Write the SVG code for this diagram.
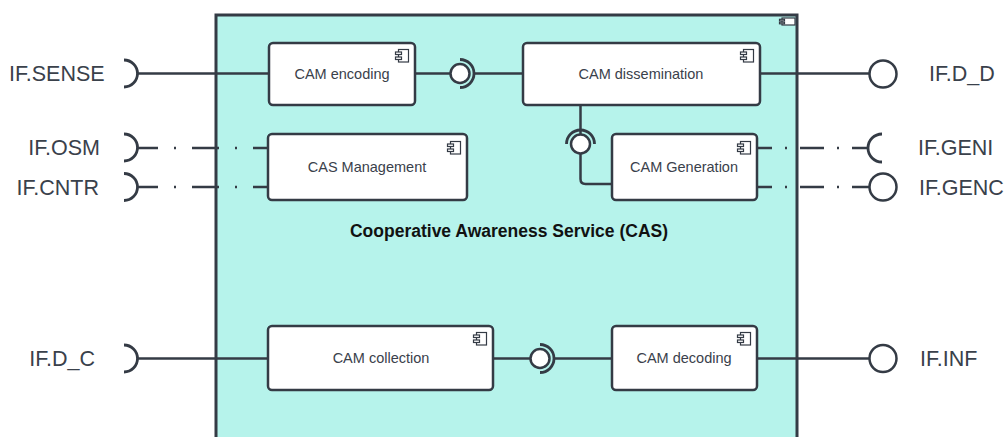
<svg xmlns="http://www.w3.org/2000/svg" width="1006" height="437" viewBox="0 0 1006 437">
  <style>
    .box { fill: #ffffff; stroke: #343b45; stroke-width: 2.5; }
    .wire { fill: none; stroke: #343b45; stroke-width: 2.5; }
    .dd-left { fill: none; stroke: #343b45; stroke-width: 2.5; stroke-dasharray: 27 16 2 16; stroke-dashoffset: 6; }
    .dd-right { fill: none; stroke: #343b45; stroke-width: 2.5; stroke-dasharray: 24 13 2 13; stroke-dashoffset: 9; }
    .ball { fill: #ffffff; stroke: #343b45; stroke-width: 2.5; }
    .socket { fill: none; stroke: #343b45; stroke-width: 2.8; }
    .lbl { font-family: "Liberation Sans", Arial, sans-serif; font-size: 14.5px; fill: #3a414b; text-anchor: middle; }
    .port { font-family: "Liberation Sans", Arial, sans-serif; font-size: 21.5px; fill: #3a414b; }
    .title { font-family: "Liberation Sans", Arial, sans-serif; font-size: 17.5px; font-weight: bold; fill: #111111; text-anchor: middle; }
  </style>
  <defs>
    <!-- UML component glyph -->
    <g id="cmp-icon" fill="#ffffff" stroke="#343b45" stroke-width="1.2">
      <rect x="3.5" y="0.5" width="10" height="12.5"/>
      <rect x="0.5" y="3" width="6" height="2.5"/>
      <rect x="0.5" y="8" width="6" height="2.5"/>
    </g>
  </defs>

  <!-- CAS container -->
  <g id="cas">
    <rect x="216" y="15" width="581" height="440" fill="#b6f3eb" stroke="#343b45" stroke-width="3"/>
    <g fill="#ffffff" stroke="#343b45" stroke-width="1.2">
      <rect x="782" y="18" width="13" height="7"/>
      <rect x="779.5" y="19.3" width="5" height="1.6"/>
      <rect x="779.5" y="22.2" width="5" height="1.6"/>
    </g>
    <text class="title" x="509" y="237">Cooperative Awareness Service (CAS)</text>
  </g>

  <!-- connectors -->
  <g id="connectors">
    <!-- IF.SENSE -> CAM encoding -->
    <path class="socket" d="M124,60 A13.5,13.5 0 0 1 124,87"/>
    <line class="wire" x1="138" y1="73.5" x2="269" y2="73.5"/>
    <!-- IF.OSM / IF.CNTR -> CAS Management -->
    <path class="socket" d="M124,134 A13.5,13.5 0 0 1 124,161"/>
    <path class="socket" d="M124,173.5 A13.5,13.5 0 0 1 124,200.5"/>
    <line class="dd-left" x1="137" y1="148" x2="268" y2="148"/>
    <line class="dd-left" x1="137" y1="187" x2="268" y2="187"/>
    <!-- CAM encoding -> CAM dissemination -->
    <line class="wire" x1="415" y1="73.5" x2="451" y2="73.5"/>
    <line class="wire" x1="474" y1="73.5" x2="523" y2="73.5"/>
    <circle class="ball" cx="460" cy="73.5" r="9.5"/>
    <path class="socket" d="M460,59.5 A14,14 0 0 1 460,87.5"/>
    <!-- CAM dissemination -> IF.D_D -->
    <line class="wire" x1="760" y1="73.5" x2="869" y2="73.5"/>
    <circle class="ball" cx="883" cy="74" r="13.5"/>
    <!-- CAM Generation -> CAM dissemination -->
    <line class="wire" x1="580.5" y1="105" x2="580.5" y2="134"/>
    <path class="wire" d="M580.5,154 V179 Q580.5,184 585.5,184 H612"/>
    <circle class="ball" cx="580.5" cy="144" r="9.5"/>
    <path class="socket" d="M566.5,144 A14,14 0 0 1 594.5,144"/>
    <!-- CAM Generation -> IF.GENI / IF.GENC -->
    <line class="dd-right" x1="757" y1="148" x2="869" y2="148"/>
    <line class="dd-right" x1="757" y1="187" x2="869" y2="187"/>
    <path class="socket" d="M882,134 A14,14 0 0 0 882,162"/>
    <circle class="ball" cx="883" cy="187" r="13.5"/>
    <!-- IF.D_C -> CAM collection -->
    <path class="socket" d="M124,345 A13.5,13.5 0 0 1 124,372"/>
    <line class="wire" x1="138" y1="358.5" x2="268" y2="358.5"/>
    <!-- CAM collection -> CAM decoding -->
    <line class="wire" x1="493" y1="358.5" x2="530" y2="358.5"/>
    <line class="wire" x1="554" y1="358.5" x2="612" y2="358.5"/>
    <circle class="ball" cx="540" cy="358.5" r="9.5"/>
    <path class="socket" d="M540,344.5 A14,14 0 0 1 540,372.5"/>
    <!-- CAM decoding -> IF.INF -->
    <line class="wire" x1="757" y1="358.5" x2="869" y2="358.5"/>
    <circle class="ball" cx="883" cy="358.5" r="13.5"/>
  </g>

  <!-- components -->
  <g id="cam-encoding">
    <rect class="box" x="269" y="43" width="146" height="62" rx="4"/>
    <use href="#cmp-icon" x="395" y="49"/>
    <text class="lbl" x="342" y="78.5">CAM encoding</text>
  </g>
  <g id="cam-dissemination">
    <rect class="box" x="523" y="43" width="237" height="62" rx="4"/>
    <use href="#cmp-icon" x="740" y="49"/>
    <text class="lbl" x="641" y="78.5">CAM dissemination</text>
  </g>
  <g id="cas-management">
    <rect class="box" x="268" y="134" width="199" height="66" rx="4"/>
    <use href="#cmp-icon" x="447" y="141"/>
    <text class="lbl" x="367" y="171.5">CAS Management</text>
  </g>
  <g id="cam-generation">
    <rect class="box" x="612" y="134" width="145" height="66" rx="4"/>
    <use href="#cmp-icon" x="737" y="141"/>
    <text class="lbl" x="684" y="171.5">CAM Generation</text>
  </g>
  <g id="cam-collection">
    <rect class="box" x="268" y="326" width="225" height="64" rx="4"/>
    <use href="#cmp-icon" x="473" y="332"/>
    <text class="lbl" x="381" y="363">CAM collection</text>
  </g>
  <g id="cam-decoding">
    <rect class="box" x="612" y="326" width="145" height="64" rx="4"/>
    <use href="#cmp-icon" x="737" y="332"/>
    <text class="lbl" x="684" y="363">CAM decoding</text>
  </g>

  <!-- interface labels -->
  <g id="ports">
    <text class="port" x="9" y="81">IF.SENSE</text>
    <text class="port" x="100" y="155" text-anchor="end">IF.OSM</text>
    <text class="port" x="99" y="194.5" text-anchor="end">IF.CNTR</text>
    <text class="port" x="95" y="366" text-anchor="end">IF.D_C</text>
    <text class="port" x="929" y="81">IF.D_D</text>
    <text class="port" x="918" y="155">IF.GENI</text>
    <text class="port" x="919" y="194.5">IF.GENC</text>
    <text class="port" x="920" y="366">IF.INF</text>
  </g>
</svg>
